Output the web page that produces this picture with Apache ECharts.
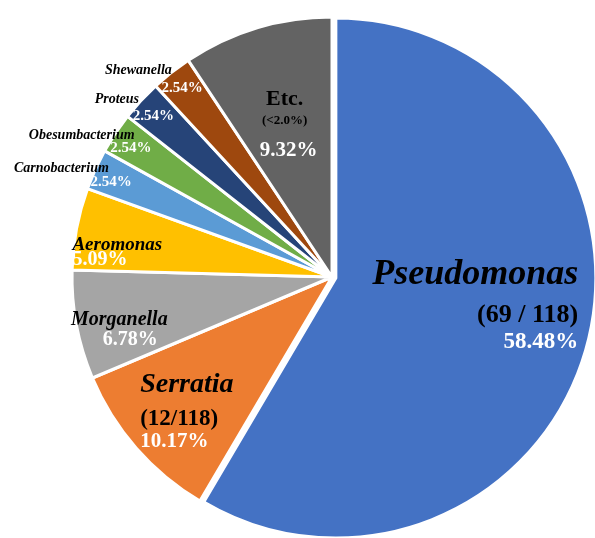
<!DOCTYPE html>
<html>
<head>
<meta charset="utf-8">
<script src="https://cdn.jsdelivr.net/npm/echarts@6/dist/echarts.min.js"></script>
<style>
  html, body { margin: 0; padding: 0; background: #fff; }
  #main { width: 595px; height: 538px; }
</style>
</head>
<body>
<div id="main"></div>
<script>
// genus, share of isolates (%), counts shown under the big ones
const names = ['Pseudomonas', 'Serratia', 'Morganella', 'Aeromonas', 'Carnobacterium', 'Obesumbacterium', 'Proteus', 'Shewanella', 'Etc.'];
const percents = [58.48, 10.17, 6.78, 5.09, 2.54, 2.54, 2.54, 2.54, 9.32];
const counts = ['(69 / 118)', '(12/118)', '', '', '', '', '', '', '(<2.0%)'];
const colors = ['#4472C4', '#ED7D31', '#A5A5A5', '#FFC000', '#5B9BD5', '#70AD47', '#264478', '#9E480E', '#636363'];

// label look per slice
const nameSize = [36, 28, 20, 19, 14, 14, 14, 14, 22];
const nameLh = [44, 38, 20, 16, 14, 13, 17, 17, 24];
const countSize = [26, 23, 0, 0, 0, 0, 0, 0, 13];
const countLh = [36, 32, 0, 0, 0, 0, 0, 0, 18];
const pctSize = [23, 21, 20, 20, 15, 15, 15, 15, 21];
const pctLh = [18, 12, 20, 14, 14, 13, 17, 17, 42];
const lineAlign = ['right', 'left', 'center', 'left', 'right', 'right', 'right', 'right', 'center'];
const namePadRight = [0, 0, 0, 0, 23, 17, 35, 31, 0];
const pctPadLeft = [0, 0, 22, 0, 0, 0, 0, 0, 8];
const labelShift = [[11, -11], [-45, 42], [-82, 28], [-84, 0], [-138, -47], [-131, -62], [-100, -79], [-96, -93], [-9, -20]];

const font = '"Liberation Serif", "Times New Roman", serif';

let chart = echarts.init(document.getElementById('main'));

let data = names.map((n, i) => {
  let rich = {
    nm: {
      fontFamily: font,
      fontSize: nameSize[i],
      fontWeight: 'bold',
      fontStyle: i === 8 ? 'normal' : 'italic',
      color: '#000',
      lineHeight: nameLh[i],
      align: lineAlign[i],
      padding: [0, namePadRight[i], 0, 0]
    },
    ct: {
      fontFamily: font,
      fontSize: countSize[i] || 12,
      fontWeight: 'bold',
      color: '#000',
      lineHeight: countLh[i] || 12,
      align: lineAlign[i]
    },
    pc: {
      fontFamily: font,
      fontSize: pctSize[i],
      fontWeight: 'bold',
      color: '#fff',
      lineHeight: pctLh[i],
      align: lineAlign[i],
      padding: [0, 0, 0, pctPadLeft[i]]
    }
  };
  let txt = '{nm|' + n + '}';
  if (counts[i]) txt += '\n{ct|' + counts[i] + '}';
  txt += '\n{pc|' + percents[i].toFixed(2) + '%}';
  return {
    name: n,
    value: percents[i],
    selected: i === 0, // the big slice is pulled out a little
    itemStyle: { color: colors[i] },
    label: { formatter: txt, rich: rich }
  };
});

let option = {
  animation: false,
  backgroundColor: '#fff',
  series: [{
    type: 'pie',
    center: [332, 277],
    radius: 260,
    startAngle: 90,
    clockwise: true,
    selectedMode: 'multiple',
    selectedOffset: 4,
    avoidLabelOverlap: false,
    itemStyle: { borderColor: '#fff', borderWidth: 3 },
    label: {
      show: true,
      position: 'inside',
      overflow: 'none',
      align: 'center'
    },
    labelLine: { show: false },
    labelLayout: function (params) {
      let s = labelShift[params.dataIndex];
      return { dx: s[0], dy: s[1] };
    },
    data: data
  }]
};

chart.setOption(option);
</script>
</body>
</html>
